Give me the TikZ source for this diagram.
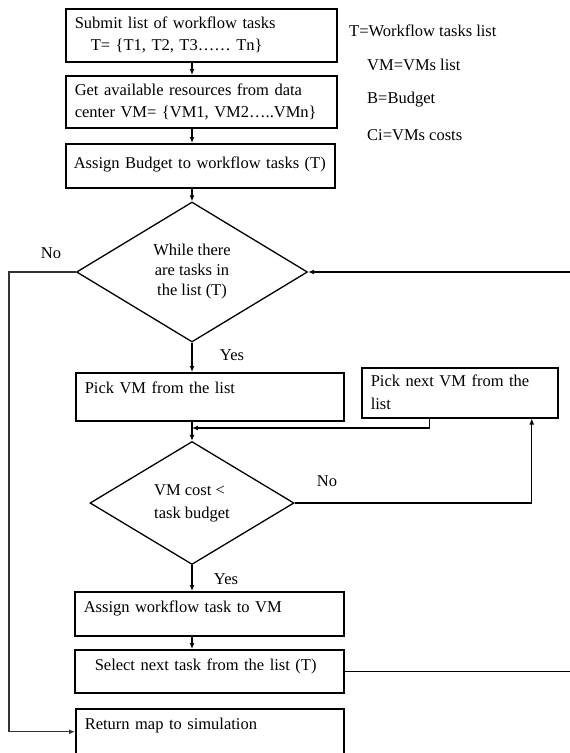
\documentclass[tikz,border=0pt]{standalone}
\usepackage{fontspec}
\setmainfont{Liberation Serif}
\usetikzlibrary{shapes.geometric}
\usetikzlibrary{arrows.meta}

\tikzset{
  procbox/.style={draw, line width=1.5pt, anchor=north west, align=left, inner xsep=9pt, inner ysep=0pt, text height=21pt, text depth=22pt},
  multibox/.style={draw, line width=1.5pt, anchor=north west, align=left, inner xsep=9pt, inner ysep=0pt},
  decision/.style={draw, diamond, line width=1.3pt, inner sep=0pt},
  flow/.style={line width=1.4pt, -{Latex[length=6pt,width=5pt]}},
  plainline/.style={line width=1.4pt},
  tag/.style={inner sep=0pt},
  legend/.style={anchor=west, inner sep=0pt}
}

\begin{document}
\begin{tikzpicture}[x=1pt,y=-1pt]
\fontsize{16.5}{22}\selectfont
\useasboundingbox (0,0) rectangle (570,753);
% guide lines
\coordinate (spine) at (192,0);
\coordinate (rail) at (9,0);
\coordinate (edge) at (570,0);
\coordinate (merge) at (192,428);
% main column
\node[multibox, text width=253pt, minimum height=53pt] (submit) at (65,8) {Submit list of workflow tasks\\\hspace*{16pt}T= \{T1, T2, T3…… Tn\}};
\node[multibox, text width=253pt, minimum height=52pt] (resources) at (65,75) {Get available resources from data\\center VM= \{VM1, VM2…..VMn\}};
\node[procbox, text width=253pt, inner xsep=8pt, text height=25pt, text depth=19pt] (budget) at (65,143) {Assign Budget to workflow tasks (T)};
\node[decision, minimum width=231pt, minimum height=140pt, align=center, font=\fontsize{16.5}{20}\selectfont] (while) at (192,272) {While there\\are tasks in\\the list (T)};
\node[procbox, text width=250pt, text depth=27pt] (pickvm) at (75,372) {Pick VM from the list};
\node[multibox, text width=178pt, minimum height=50pt, font=\fontsize{16.5}{23}\selectfont] (nextvm) at (361,367) {Pick next VM from the\\list};
\node[decision, minimum width=204pt, minimum height=123pt, align=left, font=\fontsize{16.5}{23}\selectfont] (cost) at (192,503) {VM cost <\\task budget};
\node[procbox, text width=251pt, text depth=23pt] (assign) at (74,591) {Assign workflow task to VM};
\node[procbox, text width=251pt] (select) at (74,649) {\hspace*{11pt}Select next task from the list (T)};
\node[procbox, text width=250pt, text depth=25pt] (return) at (75,708) {Return map to simulation};
% branch labels
\node[tag] (nowhile) at (51,253) {No};
\node[tag] (yeswhile) at (232,355) {Yes};
\node[tag] (nocost) at (327,481) {No};
\node[tag] (yescost) at (226,579) {Yes};
% legend
\node[legend] (legT) at (349,31) {T=Workflow tasks list};
\node[legend] (legVM) at (367,65) {VM=VMs list};
\node[legend] (legB) at (367,100) {B=Budget};
\node[legend] (legC) at (367,135) {Ci=VMs costs};
% connectors
\draw[flow] (submit.south -| spine) -- (resources.north -| spine);
\draw[flow] (resources.south -| spine) -- (budget.north -| spine);
\draw[flow] (budget.south -| spine) -- (while.north);
\draw[flow] (while.south) -- (pickvm.north -| spine);
\draw[flow] (pickvm.south -| spine) -- (cost.north);
\draw[flow] ([xshift=-30pt]nextvm.south) |- (merge); % back from next VM
\draw[flow] (cost.east) -| ([xshift=72pt]nextvm.south);
\draw[flow] (cost.south) -- (assign.north -| spine);
\draw[flow] (assign.south -| spine) -- (select.north -| spine);
\draw[plainline] (select.east) -- (select.east -| edge); % loop to next task
\draw[flow] (while.east -| edge) -- (while.east);
\draw[flow, draw=black!80] (while.west) -- (while.west -| rail) -- (rail |- return.west) -- (return.west);
\end{tikzpicture}
\end{document}
